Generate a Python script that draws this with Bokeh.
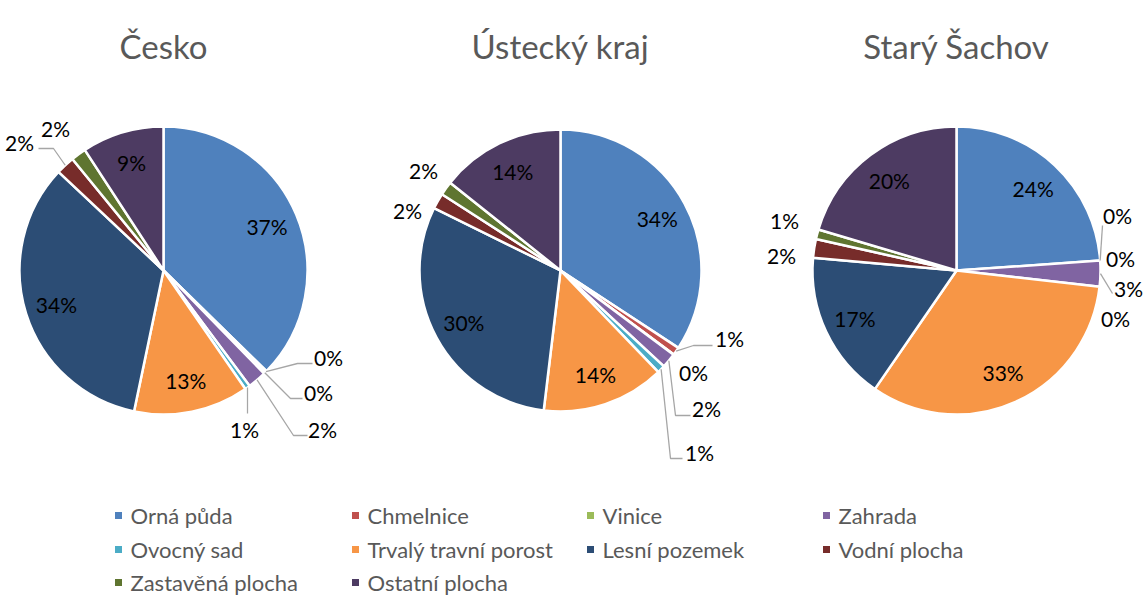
import math
from bokeh.plotting import figure
from bokeh.models import Range1d
from bokeh.core.properties import value
from bokeh.embed import file_html
from bokeh.resources import INLINE

# ---------------- data ----------------
categories = ["Orná půda", "Chmelnice", "Vinice", "Zahrada", "Ovocný sad",
              "Trvalý travní porost", "Lesní pozemek", "Vodní plocha",
              "Zastavěná plocha", "Ostatní plocha"]
colors = ["#4F81BD", "#C0504D", "#9BBB59", "#8064A2", "#4BACC6",
          "#F79646", "#2C4D75", "#772C2A", "#5F7530", "#4D3B62"]
titles = ["Česko", "Ústecký kraj", "Starý Šachov"]
cesko = [37.3, 0.15, 0.23, 2.1, 0.58, 12.9, 33.7, 2.1, 1.7, 9.2]
ustecky = [34.25, 0.9, 0.05, 1.7, 0.9, 14.1, 30.4, 1.8, 1.6, 14.3]
sachov = [23.9, 0.0, 0.0, 2.9, 0.0, 32.8, 16.8, 2.1, 1.1, 20.4]
series = [cesko, ustecky, sachov]

# ---------------- layout (reference pixel coords, y down) ----------------
W, H = 1145, 596
centers = [(163, 270), (560, 270), (956, 270)]
radii = [144, 141, 144]
title_y = 45
# outside label placement: index -> (label dx, dy, leader points after edge)
outside = [
    {1: ((165, 87), [(134, 93), (149, 93)]),
     2: ((155, 122), [(127, 128), (139, 128)]),
     3: ((159, 159), [(130, 165), (144, 165)]),
     4: ((81, 159), [(84, 143)]),
     7: ((-144, -128), [(-110, -122), (-125, -122)]),
     8: ((-108, -142), [])},
    {1: ((169, 68), [(133, 75), (152, 75)]),
     2: ((133, 102), []),
     3: ((146, 138), [(115, 145), (130, 145)]),
     4: ((139, 182), [(110, 188), (122, 188)]),
     7: ((-153, -60), []),
     8: ((-137, -100), [])},
    {1: ((161, -55), [(146, -45)]),
     2: ((164, -12), []),
     3: ((172, 18), [(156, 23)]),
     4: ((159, 48), []),
     7: ((-175, -15), []),
     8: ((-172, -50), [])},
]
legend_cols = [118, 355, 590, 826]
legend_rows = [515, 549, 582]

FONT = "Lato"


def X(x):
    return x


def Y(y):
    return H - y


p = figure(width=W, height=H, x_range=Range1d(0, W), y_range=Range1d(0, H),
           output_backend="svg", toolbar_location=None, min_border=0)
p.axis.visible = False
p.grid.visible = False
p.outline_line_color = None
p.background_fill_color = "white"
p.border_fill_color = "white"

lx, ly, ltxt = [], [], []
ox, oy, otxt = [], [], []
lead_xs, lead_ys = [], []

for k, vals in enumerate(series):
    cx, cy = centers[k]
    r = radii[k]
    total = sum(vals)
    cum = 0.0
    wx, wy, ws, we, wc = [], [], [], [], []
    for i, v in enumerate(vals):
        f0 = cum / total
        f1 = (cum + v) / total
        cum += v
        mid = (f0 + f1) / 2 * 2 * math.pi  # clockwise from top
        pct = v / total * 100
        label = f"{round(pct)}%"
        if v > 0:
            wx.append(X(cx)); wy.append(Y(cy))
            ws.append(math.pi / 2 - 2 * math.pi * f0)
            we.append(math.pi / 2 - 2 * math.pi * f1)
            wc.append(colors[i])
        if pct >= 5:
            d = 0.78 * r
            lx.append(X(cx + d * math.sin(mid)))
            ly.append(Y(cy - d * math.cos(mid)))
            ltxt.append(label)
        else:
            (dx, dy), pts = outside[k][i]
            ox.append(X(cx + dx)); oy.append(Y(cy + dy)); otxt.append(label)
            if pts:
                ex = cx + r * math.sin(mid)
                ey = cy - r * math.cos(mid)
                xs = [X(ex)] + [X(cx + a) for a, b in pts]
                ys = [Y(ey)] + [Y(cy + b) for a, b in pts]
                lead_xs.append(xs); lead_ys.append(ys)
    p.wedge(x=wx, y=wy, radius=r, start_angle=ws, end_angle=we,
            direction="clock", fill_color=wc, line_color="white",
            line_width=2.5)
    p.text(x=[X(cx)], y=[Y(title_y)], text=[titles[k]],
           text_font=value(FONT), text_font_size="33px",
           text_color="#595959", text_align="center",
           text_baseline="alphabetic")

p.multi_line(xs=lead_xs, ys=lead_ys, line_color="#A6A6A6", line_width=1.3)
p.text(x=lx, y=ly, text=ltxt, text_font=value(FONT), text_font_size="21px",
       text_color="#000000", text_align="center", text_baseline="middle")
p.text(x=ox, y=oy, text=otxt, text_font=value(FONT), text_font_size="21px",
       text_color="#000000", text_align="center", text_baseline="middle")

# legend
mx, my, mc, tx, ty = [], [], [], [], []
for i, name in enumerate(categories):
    col = i % 4
    row = i // 4
    mx.append(X(legend_cols[col])); my.append(Y(legend_rows[row]))
    mc.append(colors[i])
    tx.append(X(legend_cols[col] + 12)); ty.append(Y(legend_rows[row]))
p.scatter(x=mx, y=my, marker="square", size=7, fill_color=mc, line_color=None)
p.text(x=tx, y=ty, text=categories, text_font=value(FONT),
       text_font_size="22px", text_color="#595959", text_align="left",
       text_baseline="middle")

open("out.html", "w").write(file_html(p, INLINE))
